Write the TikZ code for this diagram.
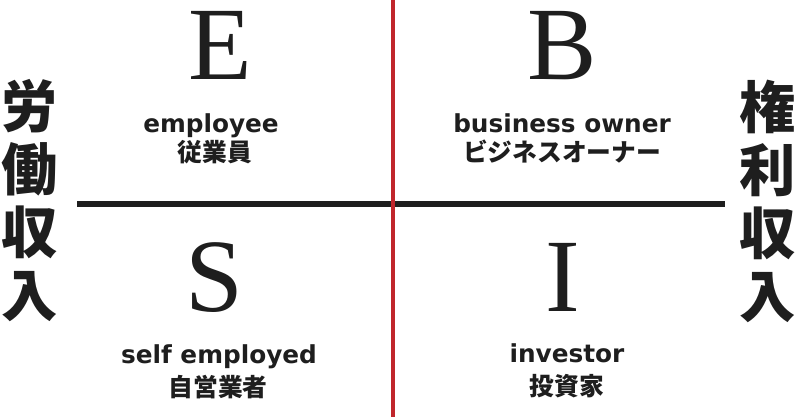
\documentclass[tikz,border=0pt]{standalone}
\usepackage{fontspec}
\usepackage{xcolor}
\usepackage{tikz}
\usetikzlibrary{positioning}
\newfontfamily\jpfont{Noto Sans CJK JP}
\newfontfamily\enfont{DejaVu Sans}
\newfontfamily\letterfont{Liberation Serif}
\definecolor{axisred}{HTML}{C0262C}
\definecolor{ink}{HTML}{1E1E1E}

\tikzset{
  letter/.style={anchor=base,inner sep=0pt,text=ink,text height=50pt,text depth=0pt,font=\letterfont\fontsize{74}{74}\selectfont},
  role/.style={anchor=base,inner sep=0pt,text=ink,font=\enfont\bfseries\fontsize{17.6}{20}\selectfont},
  rolejp/.style={inner sep=0pt,text=ink,font=\jpfont\bfseries\fontsize{17.6}{20}\selectfont},
  income/.style={inner sep=0pt,text=ink,align=center,font=\jpfont\bfseries\fontsize{40}{44.8}\selectfont}
}

\begin{document}
\begin{tikzpicture}[x=0.025cm,y=-0.025cm]
\useasboundingbox (0,0) rectangle (800,417);
% axes
\coordinate (top) at (393,0);
\coordinate (bottom) at (393,417);
\coordinate (west) at (77,204);
\coordinate (east) at (725,204);
\draw[line width=4.3pt,ink] (west) -- (east);
\draw[line width=3.4pt,axisred] (top) -- (bottom);
% E
\node[letter] (E) at (220,79) {E};
\node[role] (employee) at (211,132) {employee};
\node[rolejp] (employeejp) at (215,152) {従業員};
% B
\node[letter] (B) at (562,79) {B};
\node[role] (owner) at (562,132) {business owner};
\node[rolejp] (ownerjp) at (562,152) {ビジネスオーナー};
% S
\node[letter] (S) at (214,311) {S};
\node[role] (selfemp) at (219,363) {self employed};
\node[rolejp] (selfempjp) at (218,387) {自営業者};
% I
\node[letter] (I) at (563,311) {I};
\node[role] (investor) at (567,362) {investor};
\node[rolejp] (investorjp) at (567,386) {投資家};
% income
\node[income] (labour) at (30,201) {労\\働\\収\\入};
\node[income] (rights) at (768,201) {権\\利\\収\\入};
\end{tikzpicture}
\end{document}
